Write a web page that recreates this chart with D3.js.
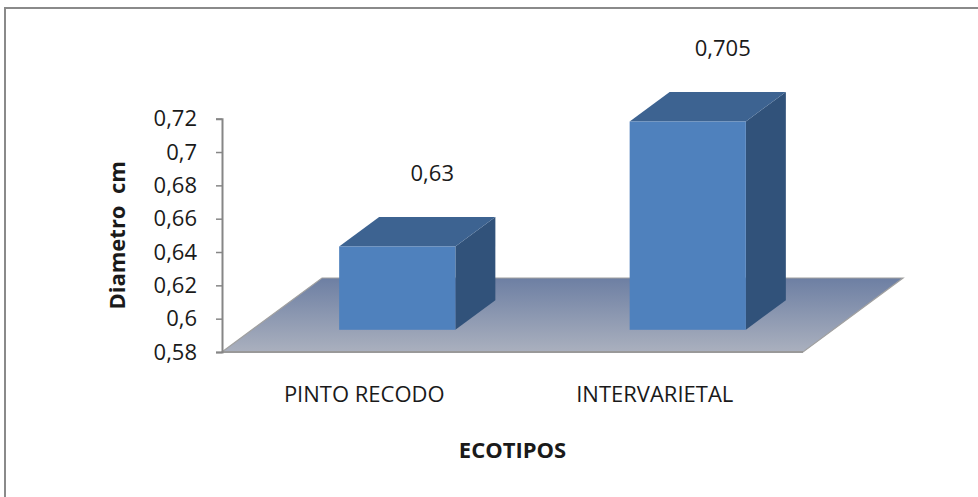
<!DOCTYPE html>
<html>
<head>
<meta charset="utf-8">
<script src="https://cdn.jsdelivr.net/npm/d3@7"></script>
<style>
  html, body { margin: 0; padding: 0; background: #fff; }
  svg { display: block; }
  text { font-family: "Open Sans", "Noto Sans", sans-serif; fill: #1a1a1a; white-space: pre; }
</style>
</head>
<body>
<svg id="chart" width="978" height="497"></svg>
<script>
// ---- data ----
const categories = ["PINTO RECODO", "INTERVARIETAL"];
const values = [0.63, 0.705];
const valueLabels = ["0,63", "0,705"];
const tickValues = [0.58, 0.60, 0.62, 0.64, 0.66, 0.68, 0.70, 0.72];
const tickLabels = ["0,58", "0,6", "0,62", "0,64", "0,66", "0,68", "0,7", "0,72"];
const yTitle = "Diametro  cm";
const xTitle = "ECOTIPOS";

// ---- layout ----
const W = 978, H = 497;
const svg = d3.select("#chart");
const floorLeft = 222, floorRight = 803, floorY = 352, topY = 118.7;
const depth = { dx: 100, dy: -74 };      // full floor depth vector
const barDepthStart = 0.3, barDepthEnd = 0.7;
const barFrac = 0.4;
const fs = 22;

const x = d3.scaleBand().domain(categories).range([floorLeft, floorRight]).padding(0);
const y = d3.scaleLinear().domain([0.58, 0.72]).range([floorY, topY]);

// border
svg.append("path")
  .attr("d", `M5,${H + 5} L5,8 L${W + 5},8`)
  .attr("fill", "none").attr("stroke", "#8a8a8a").attr("stroke-width", 2);

// floor gradient
const defs = svg.append("defs");
const g = defs.append("linearGradient").attr("id", "floorGrad")
  .attr("x1", 0).attr("y1", 0).attr("x2", 0).attr("y2", 1);
g.append("stop").attr("offset", "0%").attr("stop-color", "#6d7fa3");
g.append("stop").attr("offset", "100%").attr("stop-color", "#aab0be");

const y0 = y(0.58);
const floorPts = [
  [floorLeft, y0],
  [floorRight, y0],
  [floorRight + depth.dx, y0 + depth.dy],
  [floorLeft + depth.dx, y0 + depth.dy]
];
svg.append("polygon")
  .attr("points", floorPts.map(p => p.join(",")).join(" "))
  .attr("fill", "url(#floorGrad)")
  .attr("stroke", "#a0a0a0").attr("stroke-width", 1.2);
svg.append("line")
  .attr("x1", floorLeft).attr("x2", floorRight).attr("y1", y0).attr("y2", y0)
  .attr("stroke", "#999").attr("stroke-width", 2);

// y axis
const axis = d3.axisLeft(y).tickValues(tickValues)
  .tickFormat((d, i) => tickLabels[i]).tickSize(6).tickPadding(19);
const ax = svg.append("g").attr("transform", `translate(${floorLeft},0)`).call(axis);
ax.select(".domain").attr("stroke", "#868686").attr("stroke-width", 2);
ax.selectAll(".tick line").attr("stroke", "#868686").attr("stroke-width", 1.5);
ax.selectAll(".tick text")
  .attr("font-family", "'Open Sans', sans-serif").attr("font-size", fs)
  .attr("fill", "#1a1a1a");

// bars
const bars = svg.append("g");
categories.forEach((c, i) => {
  const bw = x.bandwidth() * barFrac;
  const cx = x(c) + x.bandwidth() / 2;
  const ox = depth.dx * barDepthStart, oy = depth.dy * barDepthStart;
  const ddx = depth.dx * (barDepthEnd - barDepthStart), ddy = depth.dy * (barDepthEnd - barDepthStart);
  const xl = cx - bw / 2 + ox, xr = cx + bw / 2 + ox;
  const yb = y(0.58) + oy, yt = y(values[i]) + oy;
  // side face
  bars.append("polygon")
    .attr("points", [[xr, yb], [xr + ddx, yb + ddy], [xr + ddx, yt + ddy], [xr, yt]].map(p => p.join(",")).join(" "))
    .attr("fill", "#31527a");
  // top face
  bars.append("polygon")
    .attr("points", [[xl, yt], [xr, yt], [xr + ddx, yt + ddy], [xl + ddx, yt + ddy]].map(p => p.join(",")).join(" "))
    .attr("fill", "#3d6391");
  // front face
  bars.append("rect")
    .attr("x", xl).attr("y", yt).attr("width", xr - xl).attr("height", yb - yt)
    .attr("fill", "#4f81bd");
  // value label
  svg.append("text")
    .attr("x", cx + ox + 35).attr("y", yt + ddy - 36)
    .attr("text-anchor", "middle").attr("font-size", fs)
    .text(valueLabels[i]);
  // category label
  svg.append("text")
    .attr("x", cx - 3).attr("y", 402)
    .attr("text-anchor", "middle").attr("font-size", fs)
    .text(c);
});

// titles
svg.append("text")
  .attr("transform", `translate(125,${(y(0.58) + y(0.72)) / 2}) rotate(-90)`)
  .attr("text-anchor", "middle").attr("font-size", fs).attr("font-weight", "bold")
  .text(yTitle);
svg.append("text")
  .attr("x", (floorLeft + floorRight) / 2).attr("y", 458)
  .attr("text-anchor", "middle").attr("font-size", fs).attr("font-weight", "bold")
  .text(xTitle);
</script>
</body>
</html>
